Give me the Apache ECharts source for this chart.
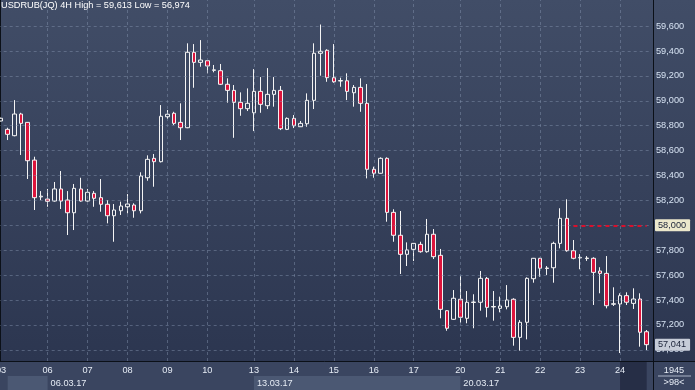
<!DOCTYPE html>
<html><head><meta charset="utf-8">
<script src="https://cdn.jsdelivr.net/npm/echarts@6/dist/echarts.min.js"></script>
<style>html,body{margin:0;padding:0;background:#36415b;overflow:hidden}#c{width:695px;height:390px}</style>
</head><body><div id="c"></div>
<script>
// ---- data ----
const symbolName = 'USDRUB(JQ) 4H';
const days = ['03','06','07','08','09','10','13','14','15','16','17','20','21','22','23','24'];
const candlesPerDay = [7,6,6,6,6,7,6,6,6,6,7,6,6,6,6,5];
const weekStartDays = ['06','13','20'];
const weekLabels = ['06.03.17','13.03.17','20.03.17'];
const opens = [58838,58771,58720,58894,58827,58524,58228,58211,58195,58292,
  58203,58101,58292,58195,58257,58222,58169,58077,58117,58149,
  58163,58117,58382,58538,58511,58872,58900,58827,58784,59390,
  59309,59322,59245,59242,59133,59084,58988,58937,58904,59076,
  58961,59052,59084,58771,58859,58792,58816,59004,59382,59406,
  59186,59159,59161,59065,59108,58980,58450,58418,58538,58104,
  57920,57767,57807,57847,57788,57928,57759,57314,57245,57406,
  57253,57380,57382,57574,57344,57333,57346,57406,57100,57221,
  57571,57735,57653,57659,57855,58056,57796,57738,57733,57735,
  57633,57614,57366,57368,57435,57373,57408,57145];
const closes = [58860,58731,58894,58819,58519,58222,58234,58193,58292,58195,
  58101,58297,58195,58265,58217,58169,58077,58123,58155,58171,
  58117,58396,58530,58511,58876,58892,58819,58784,59390,59309,
  59328,59280,59249,59133,59084,58988,58937,58980,59076,58972,
  59052,59084,58776,58859,58800,58819,59004,59382,59398,59186,
  59153,59163,59076,59108,58980,58450,58418,58538,58104,57920,
  57767,57802,57855,57788,57928,57748,57325,57173,57414,57261,
  57382,57384,57574,57341,57348,57352,57400,57100,57221,57574,
  57735,57655,57657,57855,58056,57796,57735,57742,57737,57622,
  57614,57354,57370,57435,57382,57408,57141,57041];
const lows = [58835,58685,58715,58565,58372,58123,58203,58149,58190,58131,
  57922,57962,58190,58190,58149,58109,58016,57868,58083,58096,
  58061,58096,58358,58310,58505,58854,58806,58685,58780,59105,
  59274,59221,59229,59127,58985,58703,58880,58918,58757,58904,
  58934,58953,58765,58765,58781,58790,58792,58934,59202,59153,
  59145,59113,59006,58953,58912,58377,58382,58415,58029,57868,
  57609,57673,57713,57780,57780,57729,57253,57153,57240,57218,
  57213,57173,57314,57261,57234,57301,57325,57033,56993,57084,
  57539,57587,57601,57539,57815,57788,57727,57647,57714,57360,
  57454,57333,57352,56974,57360,57328,57025,56998];
const highs = [58865,58784,59006,58904,58830,58551,58275,58292,58348,58436,
  58275,58332,58382,58292,58275,58372,58203,58171,58190,58251,
  58177,58426,58562,58573,58966,58926,58912,58980,59462,59456,
  59488,59325,59288,59296,59181,59127,59068,59100,59255,59191,
  59263,59191,59119,58867,58886,58838,59060,59462,59613,59414,
  59456,59186,59221,59127,59181,59135,58471,58546,58546,58129,
  58115,57863,57858,57868,58051,57970,57810,57318,57480,57593,
  57472,57446,57633,57585,57472,57427,57520,57414,57239,57582,
  57738,57738,57673,57868,58137,58209,57882,57769,57753,57743,
  57663,57753,57502,57454,57462,57494,57454,57159];
const yTicks = [57000,57200,57400,57600,57800,58000,58200,58400,58600,58800,59000,59200,59400,59600];
const alertLevel = 58000;
const lastPrice = 57041;
const barCount = 1945;
const visibleInfo = '>98<';

// ---- derived ----
const cats = [];
const dayStart = [];
days.forEach((d, k) => {
  dayStart.push(cats.length);
  for (let j = 0; j < candlesPerDay[k]; j++) cats.push(d + '.03.17 ' + String(j * 4).padStart(2, '0') + ':00');
});
const dayStartSet = new Set(dayStart);
const weekStartIdx = weekStartDays.map(d => dayStart[days.indexOf(d)]);
const last = cats.length - 1;
const fmt = v => Math.round(v).toLocaleString('en-US');
const hi = Math.max(...highs), lo = Math.min(...lows);

const FONT = 'Liberation Sans, Arial, sans-serif';
const FS = 9.2;
const gridCommon = { left: -2.3, width: 652.3, outerBoundsMode: 'none', containLabel: false };
const gridColor = 'rgba(135,150,178,0.45)';

const priceLabel = (v, bg) => ({
  yAxis: v, lineStyle: { color: 'rgba(0,0,0,0)', width: 1 },
  label: { show: true, position: 'end', distance: 5, formatter: () => fmt(v), color: '#1a2238',
    backgroundColor: bg, padding: [2, 4, 1, 3], fontSize: FS, fontFamily: FONT, borderRadius: 1 }
});

const chart = echarts.init(document.getElementById('c'), null, { renderer: 'canvas' });
chart.setOption({
  animation: false,
  backgroundColor: {
    type: 'linear', x: 0, y: 0, x2: 0, y2: 1,
    colorStops: [
      { offset: 0, color: '#414d67' },
      { offset: 0.925, color: '#2c3650' },
      { offset: 0.926, color: '#3a4560' },
      { offset: 1, color: '#3a4560' }
    ]
  },
  textStyle: { fontFamily: FONT },
  title: {
    text: symbolName + ' High = ' + fmt(hi) + ' Low = ' + fmt(lo),
    left: 1, top: 1, padding: 0,
    textStyle: { color: '#ffffff', fontSize: FS, fontWeight: 'normal', fontFamily: FONT }
  },
  grid: [
    Object.assign({ top: 0, height: 361 }, gridCommon),
    Object.assign({ top: 362, height: 28 }, gridCommon),
    Object.assign({ top: 376, height: 14 }, gridCommon)
  ],
  xAxis: [
    { type: 'category', gridIndex: 0, data: cats, boundaryGap: true, z: 10,
      axisLine: { show: true, lineStyle: { color: '#0b1018', width: 1 } },
      axisTick: { show: false }, splitLine: { show: false },
      axisLabel: { interval: (i) => dayStartSet.has(i), formatter: v => v.slice(0, 2),
        color: '#e6ecf5', fontSize: FS, margin: 5, fontFamily: FONT } },
    { type: 'category', gridIndex: 1, data: cats, show: false },
    { type: 'category', gridIndex: 2, data: cats, show: false }
  ],
  yAxis: [
    { type: 'value', gridIndex: 0, position: 'right', offset: 3, min: 56910, max: 59810, scale: true,
      axisLine: { show: true, lineStyle: { color: '#0b1018', width: 1 } },
      axisTick: { show: false }, splitLine: { show: false },
      axisLabel: { customValues: yTicks, formatter: v => fmt(v), color: '#d6e2f2', fontSize: FS, margin: 3, fontFamily: FONT } },
    { type: 'value', gridIndex: 1, position: 'right', offset: 3, min: 0, max: 1,
      axisLine: { show: true, lineStyle: { color: '#0b1018', width: 1 } },
      axisTick: { show: false }, axisLabel: { show: false }, splitLine: { show: false } },
    { type: 'value', gridIndex: 2, min: 0, max: 1, show: false }
  ],
  series: [
    { name: 'grid', type: 'line', xAxisIndex: 0, yAxisIndex: 0, data: cats.map(() => null), z: 1, silent: true,
      markLine: { silent: true, symbol: ['none', 'none'], label: { show: false },
        lineStyle: { color: gridColor, type: [3, 3], width: 1 },
        data: yTicks.map(v => ({ yAxis: v })).concat(dayStart.slice(1).map(i => ({ xAxis: cats[i] }))) } },
    { name: 'USDRUB', type: 'candlestick', xAxisIndex: 0, yAxisIndex: 0, z: 3, barWidth: 4,
      data: opens.map((o, i) => [o, closes[i], lows[i], highs[i]]),
      itemStyle: { color: 'rgba(0,0,0,0)', color0: '#dc143c', borderColor: '#f4f4f4', borderColor0: '#f4f4f4', borderWidth: 1 },
      markLine: { silent: true, symbol: ['none', 'none'], z: 5, label: { show: false },
        data: [
          [ { coord: [cats[86], alertLevel], lineStyle: { color: '#d8102c', type: [4, 4], width: 2 } },
            { coord: [cats[last], alertLevel] } ]
        ] } },
    { name: 'labels', type: 'line', xAxisIndex: 0, yAxisIndex: 0, data: cats.map(() => null), z: 6, silent: true, clip: false,
      markLine: { silent: true, symbol: ['none', 'none'],
        data: [ priceLabel(alertLevel, '#ece8cc'), priceLabel(lastPrice, '#c6ccd8') ] } },
    { name: 'current', type: 'scatter', xAxisIndex: 1, yAxisIndex: 1, data: [], silent: true,
      markArea: { silent: true, itemStyle: { color: '#262e46' },
        data: [[ { xAxis: cats[dayStart[dayStart.length - 1]] }, { xAxis: cats[last] } ]] } },
    { name: 'weeks', type: 'scatter', xAxisIndex: 2, yAxisIndex: 2, data: [], silent: true,
      markArea: { silent: true,
        label: { show: true, position: 'insideLeft', distance: 3, color: '#e6ecf5', fontSize: FS, fontFamily: FONT },
        data: [
          [ { xAxis: cats[1], itemStyle: { color: '#4b5873' }, label: { show: false } }, { xAxis: cats[weekStartIdx[0]] } ],
          [ { name: weekLabels[0], xAxis: cats[weekStartIdx[0]], itemStyle: { color: 'rgba(0,0,0,0)' } }, { xAxis: cats[weekStartIdx[1]] } ],
          [ { name: weekLabels[1], xAxis: cats[weekStartIdx[1]], itemStyle: { color: '#4b5873' } }, { xAxis: cats[weekStartIdx[2]] } ],
          [ { name: weekLabels[2], xAxis: cats[weekStartIdx[2]], itemStyle: { color: 'rgba(0,0,0,0)' } }, { xAxis: cats[dayStart[dayStart.length - 1]] } ]
        ] } }
  ],
  graphic: [
    { type: 'line', shape: { x1: 650, y1: 361.5, x2: 695, y2: 361.5 }, style: { stroke: '#0b1018', lineWidth: 1 }, silent: true },
    { type: 'line', shape: { x1: 0.5, y1: 0, x2: 0.5, y2: 361 }, style: { stroke: '#0b1018', lineWidth: 1 }, silent: true },
    { type: 'text', x: 674, y: 370, style: { text: String(barCount), fill: '#e6ecf5', font: FS + 'px ' + FONT, align: 'center', verticalAlign: 'middle' }, silent: true },
    { type: 'line', shape: { x1: 658, y1: 376, x2: 691, y2: 376 }, style: { stroke: '#aab4c6', lineWidth: 1 }, silent: true },
    { type: 'text', x: 674, y: 382.5, style: { text: visibleInfo, fill: '#e6ecf5', font: FS + 'px ' + FONT, align: 'center', verticalAlign: 'middle' }, silent: true }
  ]
});
</script></body></html>
